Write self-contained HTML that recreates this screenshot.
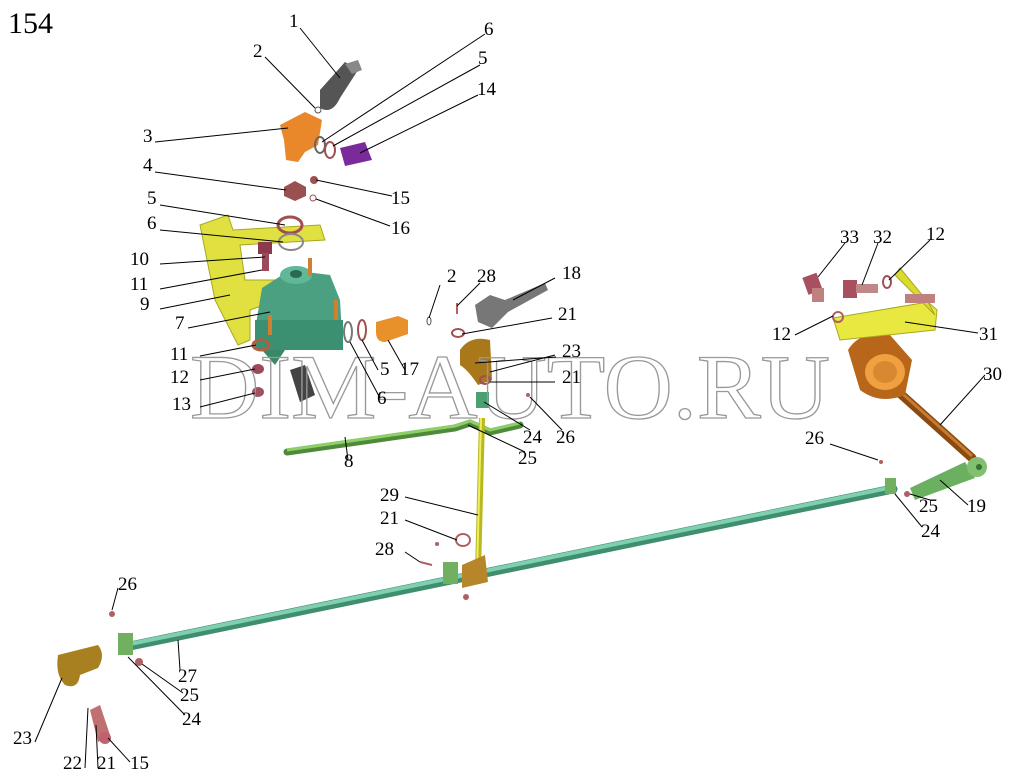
<!DOCTYPE html>
<html><head><meta charset="utf-8"><style>
html,body{margin:0;padding:0;background:#fff}
svg{display:block}
text{font-family:"Liberation Serif",serif;font-size:19px;fill:#000}
</style></head><body>
<svg width="1019" height="782" viewBox="0 0 1019 782" xmlns="http://www.w3.org/2000/svg">
<rect width="1019" height="782" fill="#fff"/>
<text x="8" y="33" style="font-size:30px">154</text>

<line x1="130" y1="646" x2="893" y2="489" stroke="#3f8f6f" stroke-width="9" stroke-linecap="round"/>
<line x1="130" y1="644" x2="893" y2="487" stroke="#7fd0b0" stroke-width="4" stroke-linecap="round"/>
<polyline points="287,452 455,428 470,423 490,432 520,425" fill="none" stroke="#4f8a3a" stroke-width="7" stroke-linecap="round"/>
<polyline points="287,450 455,426 470,421 490,430 520,423" fill="none" stroke="#8fcf6a" stroke-width="3"/>
<line x1="482" y1="418" x2="478" y2="572" stroke="#b8b820" stroke-width="6"/>
<line x1="481" y1="418" x2="477" y2="572" stroke="#eeee60" stroke-width="2"/>
<line x1="885" y1="380" x2="972" y2="458" stroke="#8a4a10" stroke-width="9" stroke-linecap="round"/>
<line x1="885" y1="378" x2="972" y2="456" stroke="#c87a30" stroke-width="3"/>
<path d="M848,350 Q860,330 890,335 L912,360 L905,395 Q880,405 860,390 Z" fill="#b8661a"/>
<ellipse cx="885" cy="372" rx="20" ry="18" fill="#f0a040"/>
<ellipse cx="885" cy="372" rx="12" ry="11" fill="#d88830"/>
<polygon points="833,318 928,302 937,310 935,330 840,340" fill="#e8e840" stroke="#a8a820"/>
<polygon points="895,275 935,315 928,302 900,268" fill="#dada30" stroke="#a8a820"/>
<rect x="805" y="275" width="15" height="18" fill="#a85060" transform="rotate(-20 812 284)"/>
<rect x="812" y="288" width="12" height="14" fill="#c08080"/>
<rect x="843" y="280" width="14" height="18" fill="#a85060"/>
<rect x="856" y="284" width="22" height="9" fill="#c08888"/>
<ellipse cx="887" cy="282" rx="4" ry="6" fill="none" stroke="#a05050" stroke-width="2"/>
<rect x="905" y="294" width="30" height="9" fill="#c08080"/>
<ellipse cx="838" cy="317" rx="5" ry="5" fill="none" stroke="#b06060" stroke-width="2"/>
<path d="M910,488 L965,462 L975,478 L915,500 Z" fill="#6ab060"/>
<circle cx="977" cy="467" r="10" fill="#80c070"/>
<circle cx="979" cy="467" r="3" fill="#3a7030"/>
<rect x="885" y="478" width="11" height="16" fill="#70b060"/>
<circle cx="907" cy="494" r="3" fill="#b06060"/>
<circle cx="881" cy="462" r="2" fill="#b06060"/>
<rect x="443" y="562" width="15" height="22" fill="#70b060"/>
<path d="M462,565 L485,555 L488,582 L462,588 Z" fill="#b8862a"/>
<circle cx="466" cy="597" r="3" fill="#b06060"/>
<ellipse cx="463" cy="540" rx="7" ry="6" fill="none" stroke="#b06060" stroke-width="2"/>
<circle cx="437" cy="544" r="2" fill="#b06060"/>
<line x1="420" y1="562" x2="432" y2="565" stroke="#b06060" stroke-width="2"/>
<rect x="118" y="633" width="15" height="22" fill="#70b060"/>
<circle cx="139" cy="662" r="4" fill="#b06060"/>
<circle cx="112" cy="614" r="3" fill="#b06060"/>
<path d="M58,655 L98,645 Q106,655 98,668 L80,675 Q78,690 65,685 Q55,675 58,655 Z" fill="#a88020"/>
<path d="M90,710 L100,705 L110,735 L98,742 Z" fill="#c07070"/>
<circle cx="105" cy="738" r="6" fill="#c06070"/>
<path d="M320,90 L345,62 L358,70 L340,98 Q332,115 320,108 Z" fill="#555"/>
<polygon points="345,64 358,60 362,70 352,74" fill="#888"/>
<circle cx="318" cy="110" r="3" fill="none" stroke="#555"/>
<path d="M280,125 L305,112 L322,120 L318,145 L305,152 L298,162 L286,160 L284,140 Z" fill="#e8882a"/>
<ellipse cx="320" cy="145" rx="5" ry="8" fill="none" stroke="#666" stroke-width="2"/>
<ellipse cx="330" cy="150" rx="5" ry="8" fill="none" stroke="#a05050" stroke-width="2"/>
<path d="M340,148 L365,142 L372,160 L345,166 Z" fill="#7a2a9a"/>
<polygon points="284,187 295,181 306,187 306,196 295,201 284,196" fill="#9a5050"/>
<circle cx="314" cy="180" r="4" fill="#a05050"/>
<circle cx="313" cy="198" r="3" fill="none" stroke="#a05050"/>
<path d="M200,225 L228,215 L233,230 L320,225 L325,240 L240,245 L245,280 L275,280 L278,300 L250,310 L250,340 L238,345 L215,300 Z" fill="#e0e040" stroke="#a8a820"/>
<ellipse cx="290" cy="225" rx="12" ry="8" fill="none" stroke="#a05050" stroke-width="3"/>
<ellipse cx="291" cy="242" rx="12" ry="8" fill="none" stroke="#888" stroke-width="2"/>
<rect x="258" y="242" width="14" height="12" fill="#8a3a4a"/>
<rect x="262" y="253" width="7" height="18" fill="#9a4a5a"/>
<path d="M262,288 L290,270 L330,275 L340,300 L342,335 L320,350 L270,348 L255,330 Z" fill="#4aa080"/>
<ellipse cx="296" cy="275" rx="16" ry="9" fill="#60b898"/>
<ellipse cx="296" cy="274" rx="6" ry="4" fill="#2a6a50"/>
<rect x="255" y="320" width="88" height="30" fill="#3a9070"/>
<path d="M262,350 L275,365 L285,350 Z" fill="#3a8868"/>
<line x1="310" y1="258" x2="310" y2="276" stroke="#d08030" stroke-width="4"/>
<line x1="336" y1="300" x2="336" y2="320" stroke="#d08030" stroke-width="4"/>
<line x1="270" y1="315" x2="270" y2="335" stroke="#d08030" stroke-width="4"/>
<path d="M290,370 L305,365 L315,395 L300,402 Z" fill="#444"/>
<ellipse cx="261" cy="345" rx="8" ry="5" fill="none" stroke="#b06040" stroke-width="3"/>
<ellipse cx="258" cy="369" rx="6" ry="5" fill="#9a4a5a"/>
<ellipse cx="258" cy="392" rx="6" ry="5" fill="#a05060"/>
<ellipse cx="348" cy="332" rx="4" ry="10" fill="none" stroke="#777" stroke-width="2"/>
<ellipse cx="362" cy="330" rx="4" ry="10" fill="none" stroke="#a05050" stroke-width="2"/>
<path d="M376,322 L398,316 L408,320 L408,334 L385,342 Q376,342 376,332 Z" fill="#e8902a"/>
<path d="M475,305 L490,295 L505,300 L545,283 L548,290 L508,312 L492,328 L478,322 Z" fill="#777"/>
<ellipse cx="429" cy="321" rx="2" ry="4" fill="none" stroke="#555"/>
<line x1="457" y1="303" x2="457" y2="314" stroke="#b06060" stroke-width="2"/>
<ellipse cx="458" cy="333" rx="6" ry="4" fill="none" stroke="#a05050" stroke-width="2"/>
<path d="M460,350 Q470,335 490,340 L492,380 L478,385 Q468,370 460,365 Z" fill="#a8781a"/>
<ellipse cx="485" cy="380" rx="5" ry="4" fill="none" stroke="#a05050" stroke-width="2"/>
<rect x="476" y="392" width="13" height="16" fill="#4aa070"/>
<circle cx="528" cy="395" r="2" fill="#b06060"/>

<text x="190" y="418" textLength="640" lengthAdjust="spacingAndGlyphs" style="font-size:92px;fill:none;stroke:#999;stroke-width:1.3">DIM-AUTO.RU</text>

<g stroke="#000" stroke-width="1" fill="none">
<line x1="300" y1="28" x2="340" y2="78"/>
<line x1="265" y1="57" x2="315" y2="108"/>
<line x1="485" y1="34" x2="322" y2="142"/>
<line x1="480" y1="65" x2="333" y2="146"/>
<line x1="478" y1="95" x2="360" y2="153"/>
<line x1="155" y1="142" x2="288" y2="128"/>
<line x1="155" y1="172" x2="286" y2="190"/>
<line x1="392" y1="196" x2="316" y2="180"/>
<line x1="160" y1="205" x2="285" y2="225"/>
<line x1="390" y1="226" x2="316" y2="199"/>
<line x1="160" y1="230" x2="283" y2="242"/>
<line x1="160" y1="264" x2="265" y2="257"/>
<line x1="160" y1="289" x2="262" y2="270"/>
<line x1="160" y1="309" x2="230" y2="295"/>
<line x1="188" y1="328" x2="270" y2="312"/>
<line x1="440" y1="285" x2="429" y2="318"/>
<line x1="480" y1="283" x2="457" y2="306"/>
<line x1="555" y1="278" x2="513" y2="300"/>
<line x1="552" y1="318" x2="462" y2="334"/>
<line x1="556" y1="357" x2="475" y2="363"/>
<line x1="555" y1="355" x2="490" y2="372"/>
<line x1="555" y1="382" x2="490" y2="382"/>
<line x1="200" y1="356" x2="256" y2="345"/>
<line x1="200" y1="380" x2="255" y2="369"/>
<line x1="200" y1="407" x2="255" y2="393"/>
<line x1="378" y1="370" x2="362" y2="340"/>
<line x1="405" y1="370" x2="388" y2="340"/>
<line x1="380" y1="398" x2="350" y2="342"/>
<line x1="562" y1="430" x2="530" y2="397"/>
<line x1="530" y1="430" x2="484" y2="402"/>
<line x1="525" y1="452" x2="468" y2="425"/>
<line x1="348" y1="460" x2="345" y2="437"/>
<line x1="405" y1="497" x2="478" y2="515"/>
<line x1="405" y1="520" x2="457" y2="540"/>
<line x1="405" y1="552" x2="420" y2="562"/>
<line x1="845" y1="243" x2="818" y2="277"/>
<line x1="878" y1="243" x2="862" y2="285"/>
<line x1="930" y1="240" x2="889" y2="280"/>
<line x1="795" y1="335" x2="833" y2="316"/>
<line x1="978" y1="333" x2="905" y2="322"/>
<line x1="985" y1="375" x2="940" y2="425"/>
<line x1="830" y1="444" x2="878" y2="460"/>
<line x1="930" y1="500" x2="910" y2="494"/>
<line x1="968" y1="505" x2="940" y2="480"/>
<line x1="922" y1="527" x2="895" y2="494"/>
<line x1="118" y1="588" x2="112" y2="610"/>
<line x1="180" y1="670" x2="178" y2="640"/>
<line x1="183" y1="693" x2="142" y2="664"/>
<line x1="185" y1="715" x2="128" y2="657"/>
<line x1="35" y1="742" x2="62" y2="678"/>
<line x1="85" y1="768" x2="88" y2="708"/>
<line x1="98" y1="768" x2="96" y2="725"/>
<line x1="130" y1="762" x2="108" y2="738"/>
</g>

<text x="289" y="27">1</text>
<text x="253" y="57">2</text>
<text x="484" y="35">6</text>
<text x="478" y="64">5</text>
<text x="477" y="95">14</text>
<text x="143" y="142">3</text>
<text x="143" y="171">4</text>
<text x="391" y="204">15</text>
<text x="147" y="204">5</text>
<text x="391" y="234">16</text>
<text x="147" y="229">6</text>
<text x="130" y="265">10</text>
<text x="130" y="290">11</text>
<text x="140" y="310">9</text>
<text x="175" y="329">7</text>
<text x="447" y="282">2</text>
<text x="477" y="282">28</text>
<text x="562" y="279">18</text>
<text x="558" y="320">21</text>
<text x="562" y="357">23</text>
<text x="562" y="383">21</text>
<text x="170" y="360">11</text>
<text x="170" y="383">12</text>
<text x="172" y="410">13</text>
<text x="380" y="375">5</text>
<text x="400" y="375">17</text>
<text x="377" y="404">6</text>
<text x="556" y="443">26</text>
<text x="523" y="443">24</text>
<text x="518" y="464">25</text>
<text x="344" y="467">8</text>
<text x="380" y="501">29</text>
<text x="380" y="524">21</text>
<text x="375" y="555">28</text>
<text x="840" y="243">33</text>
<text x="873" y="243">32</text>
<text x="926" y="240">12</text>
<text x="772" y="340">12</text>
<text x="979" y="340">31</text>
<text x="983" y="380">30</text>
<text x="805" y="444">26</text>
<text x="919" y="512">25</text>
<text x="967" y="512">19</text>
<text x="921" y="537">24</text>
<text x="118" y="590">26</text>
<text x="178" y="682">27</text>
<text x="180" y="701">25</text>
<text x="182" y="725">24</text>
<text x="13" y="744">23</text>
<text x="63" y="769">22</text>
<text x="97" y="769">21</text>
<text x="130" y="769">15</text>
</svg>
</body></html>
